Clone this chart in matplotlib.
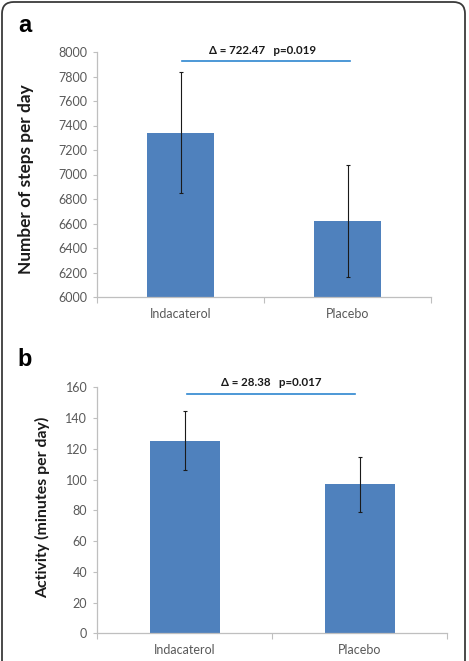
import matplotlib
matplotlib.use("Agg")
import matplotlib.pyplot as plt
from matplotlib.patches import FancyBboxPatch

categories = ["Indacaterol", "Placebo"]
steps_mean = [7341, 6618]
steps_err = [496, 456]
activity_mean = [125.3, 96.8]
activity_err = [19.3, 17.8]
steps_annot = "Δ = 722.47   p=0.019"
activity_annot = "Δ = 28.38   p=0.017"

plt.rcParams['font.family'] = ['Lato', 'DejaVu Sans']

W, H = 469, 661
fig = plt.figure(figsize=(W / 100, H / 100), dpi=100)
fig.patch.set_facecolor('white')

frame = FancyBboxPatch((2 / W, -0.05), (463 / W), 1 - 2 / H + 0.05,
                       boxstyle="round,pad=0,rounding_size=0.025",
                       transform=fig.transFigure, fill=False,
                       edgecolor='#3a3a3a', linewidth=1.3, mutation_aspect=W / H)
fig.patches.append(frame)

bar_color = '#4F81BD'
axis_color = '#BFBFBF'
text_color = '#595959'


def make_panel(rect, means, errs, ylim, yticks, annot, line_x, line_y, text_y,
               ylabel, ylabel_size, label_coords, letter, letter_pos):
    ax = fig.add_axes(rect)
    x = list(range(len(categories)))
    ax.bar(x, means, width=0.4, color=bar_color, zorder=2)
    ax.errorbar(x, means, yerr=errs, fmt='none', ecolor='#1a1a1a',
                elinewidth=0.8, capsize=1.5, capthick=0.8, zorder=3)
    ax.set_xlim(-0.5, 1.5)
    ax.set_ylim(*ylim)
    ax.set_yticks(yticks)
    ax.set_xticks(x)
    ax.set_xticklabels(categories)
    ax.set_xticks([-0.5, 0.5, 1.5], minor=True)
    for s in ['top', 'right']:
        ax.spines[s].set_visible(False)
    for s in ['left', 'bottom']:
        ax.spines[s].set_color(axis_color)
        ax.spines[s].set_linewidth(0.9)
    ax.tick_params(axis='y', length=3, width=0.8, color=axis_color,
                   labelsize=9, labelcolor=text_color, pad=4)
    ax.tick_params(axis='x', which='major', length=0, labelsize=9,
                   labelcolor=text_color, pad=8)
    ax.tick_params(axis='x', which='minor', length=4, width=0.8,
                   color=axis_color, direction='out')
    ax.set_ylabel(ylabel, fontsize=ylabel_size, fontweight='bold', color='#1a1a1a')
    ax.yaxis.set_label_coords(*label_coords)
    ax.plot(line_x, [line_y, line_y], color='#2E86D0', linewidth=1.2,
            clip_on=False, zorder=4)
    ax.text(0.494, text_y, annot, ha='center', va='center', fontsize=8.3,
            fontweight='bold', color='#1a1a1a', clip_on=False)
    fig.text(letter_pos[0] / W, 1 - letter_pos[1] / H, letter, fontsize=17,
             fontweight='bold', ha='center', va='center', color='black',
             family=['Liberation Sans', 'DejaVu Sans'])
    return ax


make_panel([97 / W, 1 - 297 / H, 334 / W, 245 / H], steps_mean, steps_err,
           (6000, 8000), list(range(6000, 8001, 200)), steps_annot,
           [0.01, 1.015], 7927, 8010, "Number of steps per day", 12.4,
           (-0.19, 0.48), "a", (25, 26))

make_panel([97 / W, 1 - 633.3 / H, 350 / W, 246 / H], activity_mean, activity_err,
           (0, 160), list(range(0, 161, 20)), activity_annot,
           [0.014, 0.974], 155.4, 163, "Activity (minutes per day)", 11.4,
           (-0.135, 0.513), "b", (25, 360))

fig.savefig("out.png", dpi=100, facecolor='white')
